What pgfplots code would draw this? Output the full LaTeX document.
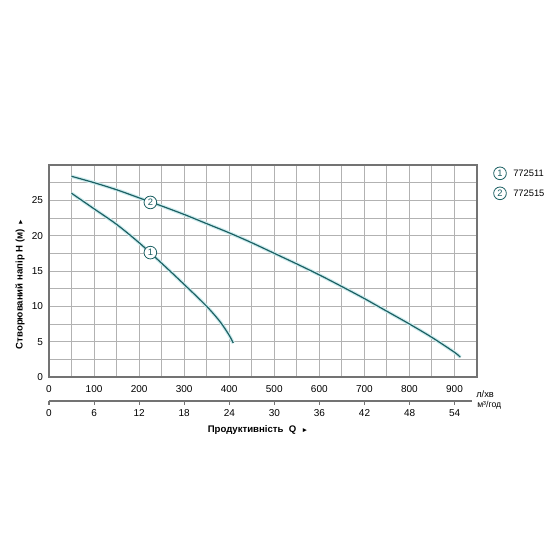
\documentclass[border=0pt]{standalone}
\usepackage{fontspec}
\setmainfont{Liberation Sans}
\usepackage{pgfplots}
\pgfplotsset{compat=1.18}

\definecolor{curve}{RGB}{28,96,99}
\definecolor{halo}{RGB}{205,236,238}
\definecolor{gridc}{RGB}{178,178,178}
\definecolor{framec}{RGB}{115,115,115}

\pgfplotstableread{
q h
50 26.0
100 23.8
150 21.6
200 19.0
250 16.1
300 13.1
350 10.0
380 7.8
400 5.9
409 4.8
}\pumpone

\pgfplotstableread{
q h
50 28.4
100 27.5
150 26.5
200 25.35
250 24.2
300 23.0
350 21.7
400 20.4
450 19.0
500 17.5
550 16.0
600 14.45
650 12.8
700 11.1
750 9.3
800 7.5
850 5.6
900 3.5
913 2.8
}\pumptwo

\tikzset{numc/.style={circle, draw=curve, line width=0.6pt, fill=white,
  minimum size=9.5pt, inner sep=0pt, text=curve,
  font=\fontsize{7}{8}\selectfont}}

\begin{document}
\begin{tikzpicture}
\path[use as bounding box] (0,0) rectangle (420pt,420pt);

\begin{axis}[
  at={(36.75pt,137.25pt)}, anchor=south west,
  scale only axis, width=321pt, height=159pt,
  xmin=0, xmax=950, ymin=0, ymax=30,
  xtick={0,100,...,900}, minor xtick={50,150,...,950},
  ytick={0,5,...,25}, minor ytick={2.5,7.5,...,27.5},
  grid=both,
  major grid style={gridc, line width=0.7pt},
  minor grid style={gridc, line width=0.7pt},
  axis line style={framec, line width=0.8pt},
  major tick length=0pt, minor tick length=0pt,
  tick label style={font=\fontsize{7.5}{9}\selectfont, text=black},
  /pgf/number format/assume math mode=true,
  xticklabel style={yshift=-2.5pt},
  yticklabel style={xshift=-1pt},
  clip=false,
]
\addplot[halo, line width=2.6pt, smooth] table[x=q, y=h] {\pumpone};
\addplot[halo, line width=2.6pt, smooth] table[x=q, y=h] {\pumptwo};
\addplot[curve, line width=0.9pt, smooth] table[x=q, y=h] {\pumpone};
\addplot[curve, line width=0.9pt, smooth] table[x=q, y=h] {\pumptwo};
\addplot[draw=none] coordinates {(225,17.6)} node[numc] {1};
\addplot[draw=none] coordinates {(225,24.7)} node[numc] {2};
\end{axis}

% second scale, m3/h
\begin{axis}[
  at={(36.75pt,119.25pt)}, anchor=south west,
  scale only axis, width=317.25pt, height=10pt,
  xmin=0, xmax=56.3, ymin=0, ymax=1,
  axis x line=bottom, axis y line=none,
  xtick={0,6,...,54},
  axis line style={framec, line width=0.8pt, -},
  tick style={framec, line width=0.8pt},
  tick align=outside, major tick length=3pt,
  tick label style={font=\fontsize{7.5}{9}\selectfont, text=black},
  /pgf/number format/assume math mode=true,
]
\end{axis}

\node[anchor=west, font=\fontsize{7}{8}\selectfont, inner sep=0pt] at (357pt,124.5pt) {л/хв};
\node[anchor=west, font=\fontsize{6.5}{7}\selectfont, inner sep=0pt] at (357.75pt,116.25pt) {м³/год};

\node[font=\fontsize{7.2}{8}\bfseries\selectfont, inner sep=0pt] at (193.5pt,97.5pt)
  {Продуктивність\hspace{4pt}Q\hspace{4pt}{\fontsize{5}{6}\selectfont ►}};
\node[rotate=90, font=\fontsize{7.2}{8}\bfseries\selectfont, inner sep=0pt] at (15pt,207pt)
  {Створюваний напір H (м)\hspace{3pt}{\fontsize{5}{6}\selectfont ►}};

\node[numc] at (375pt,290pt) {1};
\node[anchor=west, font=\fontsize{7}{8}\selectfont, inner sep=0pt] at (384.75pt,290pt) {772511};
\node[numc] at (375pt,275pt) {2};
\node[anchor=west, font=\fontsize{7}{8}\selectfont, inner sep=0pt] at (384.75pt,275pt) {772515};
\end{tikzpicture}
\end{document}
